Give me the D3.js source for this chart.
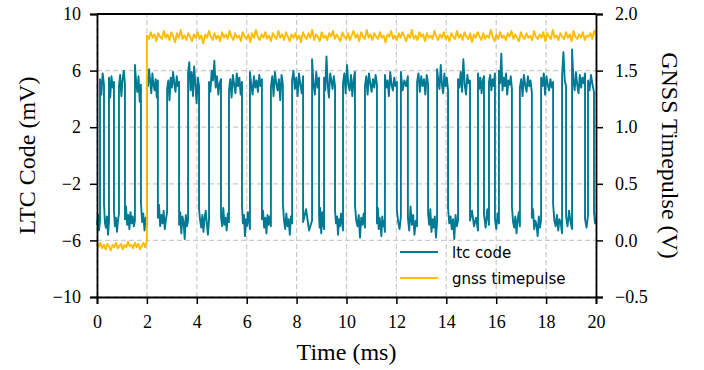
<!DOCTYPE html>
<html>
<head>
<meta charset="utf-8">
<script src="https://cdn.jsdelivr.net/npm/d3@7"></script>
<style>
  body { margin: 0; background: #fff; }
  svg { display: block; }
</style>
</head>
<body>
<div id="chart"></div>
<script>
// transition times of the LTC trace (ms); trace starts low
const ltcEdges = [0.12, 0.28, 0.48, 0.68, 0.88, 1.12, 1.52, 1.76, 2.00, 2.44,
    2.81, 3.29, 3.65, 4.09, 4.49, 4.97, 5.29, 5.81, 6.13, 6.61,
    6.97, 7.45, 7.82, 8.26, 8.62, 8.90, 9.10, 9.54, 9.86, 10.34,
    10.74, 11.22, 11.54, 12.02, 12.18, 12.46, 12.83, 13.27, 13.63, 14.07,
    14.47, 14.95, 15.27, 15.51, 15.71, 15.95, 16.11, 16.63, 16.95, 17.43,
    17.80, 18.28, 18.64, 18.80, 19.04, 19.56, 19.68, 19.92];

// samples on each plateau between edges (mV)
const ltcPlateaus = [
    [-4.9, -4.2, -5.3, -4.6],
    [5.4, 4.3, 5.8, 5.0],
    [-3.4, -4.8, -5.1, -4.3, -5.6, -4.7],
    [5.5, 4.1, 5.6, 4.8, 5.2],
    [-3.9, -5.0, -4.4, -5.4, -4.6, -4.1],
    [4.9, 5.7, 4.2, 5.3, 6.0, 5.1],
    [-4.5, -3.6, -4.9, -4.2, -5.2, -4.0, -4.8, -4.3, -5.0, -4.6],
    [6.4, 5.2, 4.5, 5.6, 3.8, 5.0],
    [-3.3, -4.7, -4.1, -5.3, -4.4, -4.9],
    [5.6, 4.9, 6.1, 5.2, 4.4, 5.8, 5.0, 4.6, 5.4, 4.1, 5.3],
    [-4.4, -3.5, -5.0, -4.2, -4.8, -3.9, -5.2, -4.5, -4.0],
    [4.7, 5.3, 3.9, 5.5, 4.8, 5.9, 5.1, 4.5, 5.6, 4.9, 5.2],
    [-4.9, -4.0, -5.5, -4.3, -4.7, -5.9, -4.2, -5.0, -4.6],
    [5.8, 6.6, 4.6, 5.9, 4.2, 6.3, 5.0, 3.7, 5.5, 4.9],
    [-3.8, -4.6, -5.1, -4.2, -5.4, -4.4, -3.9, -4.8, -5.6, -4.5],
    [5.2, 4.5, 6.0, 5.3, 6.7, 4.8, 5.6, 4.3, 5.1, 5.4],
    [-4.3, -5.0, -3.7, -4.9, -4.4, -5.3, -4.1, -4.7],
    [4.6, 5.4, 4.1, 5.7, 5.0, 4.4, 5.8, 4.9, 5.5, 4.3, 5.2],
    [-3.6, -4.8, -4.2, -5.7, -4.5, -5.0, -4.0, -4.6, -5.2],
    [5.9, 5.0, 4.3, 5.6, 4.8, 5.3, 4.5, 5.7, 4.9, 5.4],
    [-4.5, -3.9, -5.1, -4.4, -5.5, -4.2, -4.9, -4.3, -5.0],
    [4.8, 5.6, 4.2, 5.9, 5.1, 4.6, 5.4, 3.9, 5.7, 5.0],
    [-3.4, -4.6, -5.2, -4.1, -5.0, -4.5, -5.6, -4.3, -4.8],
    [5.3, 6.0, 4.7, 5.5, 4.2, 5.8, 5.0, 4.4, 5.6],
    [-4.7, -3.8, -5.3, -4.6],
    [6.8, 5.1, 4.3, 5.9, 4.8, 5.5],
    [-4.2, -5.1, -3.7, -4.9, -5.5, -4.4, -4.0, -5.0, -4.6, -5.2],
    [5.5, 4.6, 7.0, 5.0, 4.1, 5.8, 5.3, 4.7, 5.6, 4.9],
    [-3.9, -4.8, -4.3, -5.6, -4.5, -5.0, -4.1, -4.7, -5.3],
    [5.1, 5.8, 4.4, 6.4, 5.0, 4.6, 5.7, 4.2, 5.4, 5.9],
    [-3.5, -4.6, -5.0, -4.2, -5.8, -4.4, -4.9, -4.1, -5.1],
    [4.9, 5.6, 4.3, 5.8, 5.1, 4.5, 5.4, 4.8, 5.7, 5.0],
    [-4.8, -3.7, -5.2, -4.4, -4.9, -5.7, -4.3, -5.0, -4.6, -5.4],
    [5.7, 4.8, 5.3, 4.2, 5.9, 5.0, 4.6, 5.5, 4.9, 5.2],
    [-3.9, -4.7, -5.2, -4.3],
    [5.9, 4.6, 5.3, 4.9, 5.6],
    [-4.4, -5.3, -3.6, -4.9, -4.2, -5.6, -4.6, -5.0],
    [5.2, 5.8, 4.5, 5.6, 4.9, 5.4, 4.3, 5.7, 5.0],
    [-4.1, -4.9, -3.8, -5.4, -4.5, -5.1, -4.3, -5.8, -4.7],
    [6.1, 5.3, 4.7, 6.4, 5.0, 4.4, 5.8, 4.9, 5.5, 4.6],
    [-3.7, -4.8, -4.3, -5.2, -4.5, -5.9, -4.2, -5.0, -4.6],
    [5.4, 4.8, 5.9, 4.5, 6.8, 5.0, 4.3, 5.7, 5.1, 5.3],
    [-4.6, -3.9, -5.0, -4.4, -5.3],
    [5.8, 4.7, 5.5, 4.4, 5.3, 5.6],
    [-4.2, -5.1, -3.8, -4.9],
    [5.2, 5.7, 4.6, 5.4, 4.9, 5.8],
    [-4.5, -5.2, -4.1, -4.8],
    [6.0, 5.1, 7.2, 4.6, 5.5, 4.9, 5.8, 4.3, 5.3, 5.0, 5.6, 4.7],
    [-3.6, -4.7, -5.1, -4.3, -5.5, -4.6, -4.0, -5.0],
    [4.8, 5.4, 4.2, 5.7, 5.0, 4.5, 5.6, 4.9, 5.3, 4.4],
    [-4.4, -3.8, -5.2, -4.6, -4.9, -5.7, -4.3, -5.1, -4.5],
    [5.5, 4.9, 5.8, 4.3, 5.6, 5.0, 4.6, 5.4, 4.8, 5.2],
    [-3.4, -4.6, -5.0, -4.2, -5.3, -4.5, -4.8, -5.5],
    [5.6, 7.3, 5.3, 4.9],
    [-4.3, -5.0, -3.9, -4.7, -5.2],
    [7.5, 5.4, 4.6, 5.9, 5.0, 4.4, 5.7, 4.8, 5.5, 5.1, 5.8],
    [-4.5, -5.1, -4.2],
    [5.3, 4.6, 5.7, 5.0, 4.5],
    [-4.0, -4.8, -4.4]
];

// gnss timepulse (V): low before the rising edge, high after it
const gnssEdge = 2.0;
const gnssLow = [-0.03, -0.06, -0.02, -0.07, -0.04, -0.08, -0.03, -0.05, -0.09, -0.04,
    -0.06, -0.02, -0.07, -0.05, -0.03, -0.08, -0.04, -0.06, -0.01, -0.05,
    -0.04, -0.07, -0.02, -0.06, -0.03, -0.08, -0.05, -0.02, -0.06, -0.01];
const gnssHigh = [1.81, 1.78, 1.84, 1.79, 1.82, 1.76, 1.83, 1.80, 1.78, 1.85,
    1.79, 1.82, 1.77, 1.84, 1.80, 1.75, 1.83, 1.79, 1.86, 1.78,
    1.81, 1.77, 1.83, 1.80, 1.76, 1.82, 1.79, 1.84, 1.78, 1.81,
    1.74, 1.82, 1.79, 1.85, 1.80, 1.77, 1.83, 1.78, 1.81, 1.76,
    1.84, 1.79, 1.82, 1.78, 1.85, 1.80, 1.77, 1.83, 1.79, 1.81,
    1.76, 1.84, 1.80, 1.78, 1.82, 1.75, 1.83, 1.79, 1.86, 1.80,
    1.77, 1.82, 1.79, 1.84, 1.78, 1.81, 1.76, 1.83, 1.80, 1.78,
    1.85, 1.79, 1.82, 1.77, 1.84, 1.80, 1.76, 1.82, 1.79, 1.83,
    1.78, 1.81, 1.75, 1.84, 1.80, 1.78, 1.83, 1.79, 1.86, 1.77,
    1.82, 1.80, 1.76, 1.84, 1.79, 1.81, 1.77, 1.83, 1.80, 1.85,
    1.78, 1.82, 1.79, 1.76, 1.84, 1.80, 1.78, 1.83, 1.77, 1.81,
    1.85, 1.79, 1.82, 1.76, 1.84, 1.80, 1.78, 1.86, 1.79, 1.82,
    1.77, 1.83, 1.80, 1.78, 1.84, 1.79, 1.81, 1.75, 1.82, 1.80,
    1.85, 1.78, 1.81, 1.77, 1.83, 1.79, 1.84, 1.80, 1.76, 1.82,
    1.79, 1.86, 1.78, 1.81, 1.77, 1.84, 1.80, 1.82, 1.76, 1.83,
    1.79, 1.81, 1.78, 1.85, 1.80, 1.77, 1.82, 1.79, 1.84, 1.78,
    1.81, 1.76, 1.83, 1.80, 1.78, 1.85, 1.79, 1.82, 1.77, 1.84,
    1.80, 1.78, 1.83, 1.75, 1.82, 1.79, 1.84, 1.80, 1.77, 1.83,
    1.78, 1.81, 1.79, 1.86, 1.80, 1.76, 1.82, 1.78, 1.84, 1.79,
    1.81, 1.77, 1.83, 1.80, 1.85, 1.78, 1.82, 1.79, 1.76, 1.84,
    1.80, 1.78, 1.83, 1.79, 1.81, 1.77, 1.85, 1.80, 1.78, 1.82,
    1.79, 1.84, 1.76, 1.83, 1.80, 1.78, 1.86, 1.79, 1.81, 1.77,
    1.83, 1.80, 1.78, 1.84, 1.79, 1.82, 1.76, 1.85, 1.80, 1.78,
    1.82, 1.79, 1.84, 1.77, 1.81, 1.80, 1.83, 1.78, 1.85, 1.81];

const xTicks = [0, 2, 4, 6, 8, 10, 12, 14, 16, 18, 20];
const yLeftTicks = [-10, -6, -2, 2, 6, 10];
const yRightTicks = [-0.5, 0.0, 0.5, 1.0, 1.5, 2.0];
const seriesNames = ['ltc code', 'gnss timepulse'];
const seriesColors = ['#007a94', '#ffbc00'];

const width = 704;
const height = 370;
const margin = { top: 14, right: 108, bottom: 73, left: 97 };
const serif = "'Liberation Serif', 'Times New Roman', Times, serif";

const x = d3.scaleLinear().domain([0, 20]).range([margin.left, width - margin.right]);
const yL = d3.scaleLinear().domain([-10, 10]).range([height - margin.bottom, margin.top]);
const yR = d3.scaleLinear().domain([-0.5, 2.0]).range([height - margin.bottom, margin.top]);

const svg = d3.select('#chart').append('svg')
    .attr('width', width)
    .attr('height', height);

// grid
const grid = svg.append('g')
    .attr('stroke', '#cbcbcb')
    .attr('stroke-width', 1.2)
    .attr('stroke-dasharray', '5,3');
grid.selectAll('line.v').data(xTicks).enter().append('line')
    .attr('x1', d => x(d)).attr('x2', d => x(d))
    .attr('y1', yL(-10)).attr('y2', yL(10));
grid.selectAll('line.h').data(yLeftTicks).enter().append('line')
    .attr('x1', x(0)).attr('x2', x(20))
    .attr('y1', d => yL(d)).attr('y2', d => yL(d));

// build the ltc points: plateau samples spread between its two edges
const bounds = [0, ...ltcEdges, 20];
const ltcPoints = [];
ltcPlateaus.forEach((vals, i) => {
    const a = bounds[i], b = bounds[i + 1];
    vals.forEach((v, k) => {
        ltcPoints.push([a + (b - a) * k / (vals.length - 1), v]);
    });
});

const gnssPoints = [];
gnssLow.forEach((v, k) => gnssPoints.push([gnssEdge * k / (gnssLow.length - 1), v]));
gnssHigh.forEach((v, k) => gnssPoints.push([gnssEdge + (20 - gnssEdge) * k / (gnssHigh.length - 1), v]));

svg.append('path')
    .datum(ltcPoints)
    .attr('fill', 'none')
    .attr('stroke', seriesColors[0])
    .attr('stroke-width', 1.9)
    .attr('stroke-linejoin', 'round')
    .attr('d', d3.line().x(d => x(d[0])).y(d => yL(d[1])));

svg.append('path')
    .datum(gnssPoints)
    .attr('fill', 'none')
    .attr('stroke', seriesColors[1])
    .attr('stroke-width', 1.9)
    .attr('stroke-linejoin', 'round')
    .attr('d', d3.line().x(d => x(d[0])).y(d => yR(d[1])));

// axes
function styleAxis(g) {
    g.select('.domain').attr('stroke', '#000').attr('stroke-width', 1.8);
    g.selectAll('.tick line').attr('stroke', '#000').attr('stroke-width', 1.5);
    g.selectAll('.tick text').attr('font-family', serif).attr('font-size', 18).attr('fill', '#000');
}

svg.append('g')
    .attr('transform', `translate(0,${height - margin.bottom})`)
    .call(d3.axisBottom(x).tickValues(xTicks).tickSize(7).tickPadding(11).tickFormat(d3.format('d')))
    .call(styleAxis);

svg.append('g')
    .attr('transform', `translate(${margin.left},0)`)
    .call(d3.axisLeft(yL).tickValues(yLeftTicks).tickSize(7).tickPadding(9).tickFormat(d3.format('d')))
    .call(styleAxis);

svg.append('g')
    .attr('transform', `translate(${width - margin.right},0)`)
    .call(d3.axisRight(yR).tickValues(yRightTicks).tickSize(7).tickPadding(12).tickFormat(d3.format('.1f')))
    .call(styleAxis);

// top spine
svg.append('line')
    .attr('x1', margin.left).attr('x2', width - margin.right)
    .attr('y1', margin.top).attr('y2', margin.top)
    .attr('stroke', '#000').attr('stroke-width', 1.8);

// axis titles
svg.append('text')
    .attr('x', (margin.left + width - margin.right) / 2)
    .attr('y', 360)
    .attr('text-anchor', 'middle')
    .attr('font-family', serif)
    .attr('font-size', 24)
    .text('Time (ms)');

svg.append('text')
    .attr('transform', `translate(35,${(margin.top + height - margin.bottom) / 2}) rotate(-90)`)
    .attr('text-anchor', 'middle')
    .attr('font-family', serif)
    .attr('font-size', 24)
    .text('LTC Code (mV)');

svg.append('text')
    .attr('transform', `translate(662,${(margin.top + height - margin.bottom) / 2}) rotate(90)`)
    .attr('text-anchor', 'middle')
    .attr('font-family', serif)
    .attr('font-size', 24)
    .text('GNSS Timepulse (V)');

// legend
const legend = svg.append('g').attr('transform', 'translate(400,252)');
seriesNames.forEach((name, i) => {
    const row = legend.append('g').attr('transform', `translate(0,${i * 26})`);
    row.append('line')
        .attr('x1', 0).attr('x2', 38)
        .attr('stroke', seriesColors[i])
        .attr('stroke-width', 1.8);
    row.append('text')
        .attr('x', 52)
        .attr('y', 5.5)
        .attr('font-family', "'DejaVu Sans', sans-serif")
        .attr('font-size', 15)
        .text(name);
});
</script>
</body>
</html>
